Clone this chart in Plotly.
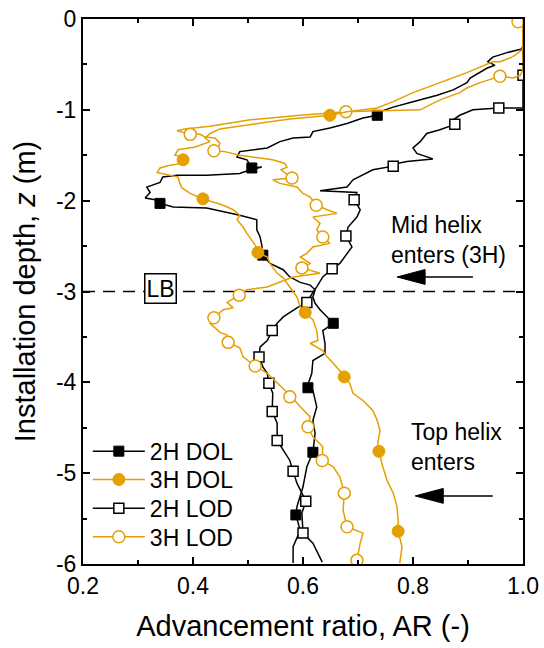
import plotly.graph_objects as go

# ---------------- data ----------------
dol2h_ar = [1.0, 1.0, 0.998, 0.971, 0.945, 0.936, 0.949, 0.935, 0.904, 0.898,
            0.873, 0.844, 0.8, 0.764, 0.74, 0.735, 0.709, 0.68, 0.649, 0.618,
            0.613, 0.582, 0.558, 0.535, 0.485, 0.48, 0.498, 0.507, 0.525, 0.504,
            0.485, 0.425, 0.371, 0.345, 0.34, 0.316, 0.322, 0.313, 0.331, 0.34,
            0.364, 0.425, 0.462, 0.485, 0.516, 0.516, 0.522, 0.525, 0.527, 0.54,
            0.564, 0.576, 0.595, 0.613, 0.622, 0.618, 0.622, 0.631, 0.644, 0.655,
            0.636, 0.64, 0.64, 0.618, 0.616, 0.607, 0.618, 0.625, 0.618, 0.622,
            0.618, 0.607, 0.6, 0.589, 0.587, 0.595, 0.582, 0.582]
dol2h_z = [0, -0.29, -0.33, -0.37, -0.42, -0.47, -0.51, -0.54, -0.65, -0.70,
           -0.78, -0.84, -0.91, -0.97, -1.02, -1.06, -1.09, -1.15, -1.20, -1.24,
           -1.30, -1.31, -1.35, -1.42, -1.46, -1.52, -1.55, -1.64, -1.63, -1.66,
           -1.70, -1.72, -1.72, -1.74, -1.80, -1.85, -1.91, -1.97, -1.99, -2.03,
           -2.07, -2.08, -2.13, -2.16, -2.21, -2.32, -2.40, -2.49, -2.60, -2.69,
           -2.76, -2.84, -2.90, -2.93, -2.98, -3.06, -3.13, -3.20, -3.28, -3.35,
           -3.43, -3.57, -3.68, -3.76, -3.90, -4.06, -4.09, -4.27, -4.42, -4.56,
           -4.77, -4.93, -5.15, -5.37, -5.46, -5.63, -5.81, -5.99]
dol2h_mk_ar = [0.735, 0.507, 0.34, 0.527, 0.655, 0.609, 0.618, 0.587]
dol2h_mk_z = [-1.06, -1.64, -2.03, -2.60, -3.35, -4.06, -4.77, -5.46]

lod2h_ar = [1.0, 1.0, 1.0, 0.956, 0.909, 0.885, 0.873, 0.876, 0.849, 0.825,
            0.813, 0.8, 0.807, 0.836, 0.789, 0.771, 0.764, 0.727, 0.691, 0.68,
            0.631, 0.698, 0.693, 0.704, 0.698, 0.682, 0.678, 0.689, 0.68, 0.667,
            0.653, 0.636, 0.625, 0.618, 0.607, 0.589, 0.564, 0.553, 0.544, 0.535,
            0.522, 0.52, 0.527, 0.535, 0.538, 0.545, 0.544, 0.553, 0.553, 0.564,
            0.576, 0.582, 0.589, 0.598, 0.605, 0.598, 0.6, 0.618, 0.631, 0.635]
lod2h_z = [0, -0.62, -0.98, -0.98, -1.0, -1.06, -1.11, -1.16, -1.22, -1.26,
           -1.35, -1.42, -1.48, -1.54, -1.57, -1.59, -1.62, -1.66, -1.77, -1.85,
           -1.89, -1.91, -1.99, -2.10, -2.18, -2.29, -2.39, -2.51, -2.58, -2.69,
           -2.75, -2.84, -2.95, -3.01, -3.12, -3.18, -3.28, -3.35, -3.43, -3.54,
           -3.61, -3.72, -3.83, -3.90, -4.01, -4.12, -4.32, -4.45, -4.64, -4.75,
           -4.86, -4.98, -5.11, -5.22, -5.31, -5.44, -5.66, -5.77, -5.93, -5.98]
lod2h_mk_ar = [1.0, 0.956, 0.876, 0.764, 0.693, 0.678, 0.653, 0.607, 0.544, 0.52,
               0.538, 0.544, 0.553, 0.582, 0.605, 0.6]
lod2h_mk_z = [-0.62, -0.98, -1.16, -1.62, -1.99, -2.39, -2.75, -3.12, -3.43, -3.72,
              -4.01, -4.32, -4.64, -4.98, -5.31, -5.66]

dol3h_ar = [1.0, 1.0, 0.998, 0.985, 0.976, 0.958, 0.945, 0.898, 0.849, 0.8,
            0.764, 0.735, 0.68, 0.649, 0.576, 0.504, 0.449, 0.431, 0.422, 0.431,
            0.404, 0.373, 0.367, 0.385, 0.382, 0.358, 0.34, 0.335, 0.358, 0.373,
            0.376, 0.38, 0.395, 0.418, 0.455, 0.473, 0.485, 0.48, 0.491, 0.498,
            0.513, 0.518, 0.535, 0.54, 0.553, 0.564, 0.576, 0.589, 0.595, 0.604,
            0.618, 0.625, 0.627, 0.613, 0.636, 0.644, 0.655, 0.667, 0.675, 0.685,
            0.691, 0.709, 0.727, 0.735, 0.74, 0.736, 0.738, 0.745, 0.753, 0.764,
            0.771, 0.773, 0.773, 0.78, 0.776]
dol3h_z = [0, -0.32, -0.34, -0.40, -0.43, -0.47, -0.47, -0.59, -0.70, -0.81,
           -0.91, -0.98, -1.02, -1.06, -1.10, -1.16, -1.21, -1.26, -1.31, -1.35,
           -1.41, -1.44, -1.50, -1.52, -1.59, -1.61, -1.64, -1.69, -1.72, -1.74,
           -1.81, -1.86, -1.92, -1.98, -2.05, -2.10, -2.16, -2.21, -2.29, -2.36,
           -2.49, -2.57, -2.62, -2.69, -2.80, -2.85, -2.95, -3.06, -3.17, -3.24,
           -3.31, -3.43, -3.54, -3.57, -3.65, -3.72, -3.79, -3.87, -3.93, -4.01,
           -4.12, -4.20, -4.31, -4.42, -4.53, -4.67, -4.76, -4.93, -5.08, -5.22,
           -5.37, -5.52, -5.64, -5.81, -5.99]
dol3h_mk_ar = [0.649, 0.382, 0.418, 0.518, 0.604, 0.675, 0.738, 0.773]
dol3h_mk_z = [-1.06, -1.55, -1.98, -2.57, -3.23, -3.94, -4.76, -5.64]

lod3h_ar = [1.0, 1.0, 0.995, 0.982, 0.958, 0.922, 0.898, 0.885, 0.849, 0.813,
            0.74, 0.678, 0.595, 0.504, 0.431, 0.385, 0.371, 0.395, 0.413, 0.422,
            0.44, 0.449, 0.445, 0.438, 0.458, 0.485, 0.522, 0.545, 0.567, 0.571,
            0.56, 0.58, 0.545, 0.558, 0.589, 0.6, 0.613, 0.624, 0.644, 0.662,
            0.618, 0.631, 0.625, 0.636, 0.649, 0.618, 0.607, 0.595, 0.613, 0.598,
            0.631, 0.582, 0.535, 0.498, 0.484, 0.462, 0.473, 0.455, 0.438, 0.431,
            0.449, 0.462, 0.464, 0.485, 0.491, 0.513, 0.535, 0.553, 0.576, 0.595,
            0.613, 0.609, 0.618, 0.636, 0.635, 0.655, 0.667, 0.675, 0.673, 0.68,
            0.709, 0.704, 0.698, 0.7]
lod3h_z = [0, -0.56, -0.62, -0.65, -0.63, -0.70, -0.76, -0.81, -0.89, -1.0,
           -1.01, -1.02, -1.06, -1.11, -1.18, -1.21, -1.23, -1.27, -1.27, -1.30,
           -1.31, -1.37, -1.42, -1.45, -1.46, -1.50, -1.53, -1.55, -1.59, -1.63,
           -1.66, -1.75, -1.77, -1.81, -1.85, -1.92, -1.96, -2.05, -2.10, -2.14,
           -2.18, -2.25, -2.32, -2.40, -2.47, -2.51, -2.58, -2.62, -2.69, -2.74,
           -2.80, -2.84, -2.95, -2.98, -3.04, -3.12, -3.18, -3.20, -3.29, -3.35,
           -3.45, -3.48, -3.56, -3.62, -3.72, -3.82, -3.90, -4.01, -4.14, -4.27,
           -4.38, -4.49, -4.60, -4.71, -4.86, -4.93, -5.04, -5.22, -5.41, -5.59,
           -5.66, -5.77, -5.96, -6.0]
lod3h_mk_ar = [0.991, 0.958, 0.678, 0.395, 0.438, 0.58, 0.624, 0.636, 0.598, 0.484,
               0.438, 0.464, 0.513, 0.576, 0.609, 0.635, 0.675, 0.68, 0.698]
lod3h_mk_z = [-0.03, -0.63, -1.02, -1.27, -1.45, -1.75, -2.05, -2.40, -2.74, -3.04,
              -3.29, -3.56, -3.82, -4.16, -4.49, -4.86, -5.22, -5.59, -5.96]

x_tickvals = [0.2, 0.4, 0.6, 0.8, 1.0]
x_ticktext = ["0.2", "0.4", "0.6", "0.8", "1.0"]
y_tickvals = [-6, -5, -4, -3, -2, -1, 0]
y_ticktext = ["-6", "-5", "-4", "-3", "-2", "-1", "0"]

legend_order = ["2H DOL", "3H DOL", "2H LOD", "3H LOD"]

lb_depth = -3.0
mid_arrow = dict(tail=0.909, base=0.822, tip=0.771, z=-2.84, half=0.082)
top_arrow = dict(tail=0.945, base=0.855, tip=0.804, z=-5.25, half=0.082)

# ---------------- styling ----------------
BLACK = "#000000"
ORANGE = "#E69F00"
FONT = "Arial, Liberation Sans, sans-serif"
LW = 1.5

series = [
    ("2H DOL", dol2h_ar, dol2h_z, dol2h_mk_ar, dol2h_mk_z, BLACK,
     dict(symbol="square", size=10, color=BLACK, line=dict(color=BLACK, width=1))),
    ("2H LOD", lod2h_ar, lod2h_z, lod2h_mk_ar, lod2h_mk_z, BLACK,
     dict(symbol="square", size=10, color="white", line=dict(color=BLACK, width=1.5))),
    ("3H LOD", lod3h_ar, lod3h_z, lod3h_mk_ar, lod3h_mk_z, ORANGE,
     dict(symbol="circle", size=12, color="white", line=dict(color=ORANGE, width=1.5))),
    ("3H DOL", dol3h_ar, dol3h_z, dol3h_mk_ar, dol3h_mk_z, ORANGE,
     dict(symbol="circle", size=12, color=ORANGE, line=dict(color=ORANGE, width=1))),
]

fig = go.Figure()
styles = {}
for name, xa, za, mx, mz, col, mk in series:
    styles[name] = (col, mk)
    fig.add_trace(go.Scatter(x=xa, y=za, mode="lines", line=dict(color=col, width=LW),
                             showlegend=False, hoverinfo="skip"))
    fig.add_trace(go.Scatter(x=mx, y=mz, mode="markers", marker=mk, showlegend=False))

# one single-entry legend per series so the entries can be spaced like the reference
legend_ids = ["legend", "legend2", "legend3", "legend4"]
for name, lid in zip(legend_order, legend_ids):
    col, mk = styles[name]
    fig.add_trace(go.Scatter(x=[None], y=[None], mode="lines+markers", name=name,
                             line=dict(color=col, width=LW), marker=mk, legend=lid))

shapes = [
    dict(type="line", xref="x", yref="y", x0=0.2, x1=1.0, y0=lb_depth, y1=lb_depth,
         line=dict(color=BLACK, width=1.5, dash="12px,8px"), layer="below"),
]
for a in (mid_arrow, top_arrow):
    shapes.append(dict(type="line", xref="x", yref="y", x0=a["tail"], x1=a["base"],
                       y0=a["z"], y1=a["z"], line=dict(color=BLACK, width=1.5)))
    shapes.append(dict(type="path", xref="x", yref="y",
                       path=f"M{a['tip']},{a['z']} L{a['base']},{a['z'] + a['half']} "
                            f"L{a['base']},{a['z'] - a['half']} Z",
                       fillcolor=BLACK, line=dict(color=BLACK, width=1)))

annotations = [
    dict(x=0.34, y=-2.97, xref="x", yref="y", text="LB", showarrow=False,
         font=dict(family=FONT, size=23, color=BLACK), bgcolor="white",
         bordercolor=BLACK, borderwidth=1.5, borderpad=1),
    dict(x=0.757, y=-2.43, xref="x", yref="y", text="Mid helix<br>enters (3H)",
         showarrow=False, xanchor="left", yanchor="middle", align="left",
         font=dict(family=FONT, size=23, color=BLACK)),
    dict(x=0.793, y=-4.71, xref="x", yref="y", text="Top helix<br>enters",
         showarrow=False, xanchor="left", yanchor="middle", align="left",
         font=dict(family=FONT, size=23, color=BLACK)),
]

axis_common = dict(
    showline=True, linewidth=2, linecolor=BLACK, mirror="ticks",
    ticks="inside", ticklen=7, tickwidth=1.5, tickcolor=BLACK,
    showgrid=False, zeroline=False, automargin=False, ticklabeloverflow="allow",
    tickfont=dict(family=FONT, size=23, color=BLACK),
)

legend_y = [0.207, 0.155, 0.102, 0.05]
legend_layout = {}
for lid, ly in zip(legend_ids, legend_y):
    legend_layout[lid] = dict(x=0.011, y=ly, xanchor="left", yanchor="middle",
                              bgcolor="rgba(0,0,0,0)", borderwidth=0, itemwidth=52,
                              font=dict(family=FONT, size=23, color=BLACK))

fig.update_layout(
    width=544, height=648,
    margin=dict(l=83, r=21, t=19, b=84),
    paper_bgcolor="white", plot_bgcolor="white",
    font=dict(family=FONT, color=BLACK),
    shapes=shapes, annotations=annotations,
    showlegend=True,
    xaxis=dict(range=[0.2, 1.0], tickvals=x_tickvals, ticktext=x_ticktext,
               minor=dict(dtick=0.1, ticks="inside", ticklen=4, tickwidth=1.5, tickcolor=BLACK),
               title=dict(text="Advancement ratio, AR (-)", standoff=18,
                          font=dict(family=FONT, size=29, color=BLACK)),
               **axis_common),
    yaxis=dict(range=[-6, 0], tickvals=y_tickvals, ticktext=y_ticktext,
               minor=dict(dtick=0.5, ticks="inside", ticklen=4, tickwidth=1.5, tickcolor=BLACK),
               title=dict(text="Installation depth, <i>z</i> (m)", standoff=12,
                          font=dict(family=FONT, size=29, color=BLACK)),
               **axis_common),
    **legend_layout,
)

# remove the browser's default 8px page margin so the 544x648 figure fills the window exactly
fig.write_html("out.html",
               config={"displayModeBar": False},
               post_script="document.body.style.margin='0';document.body.style.overflow='hidden';")
